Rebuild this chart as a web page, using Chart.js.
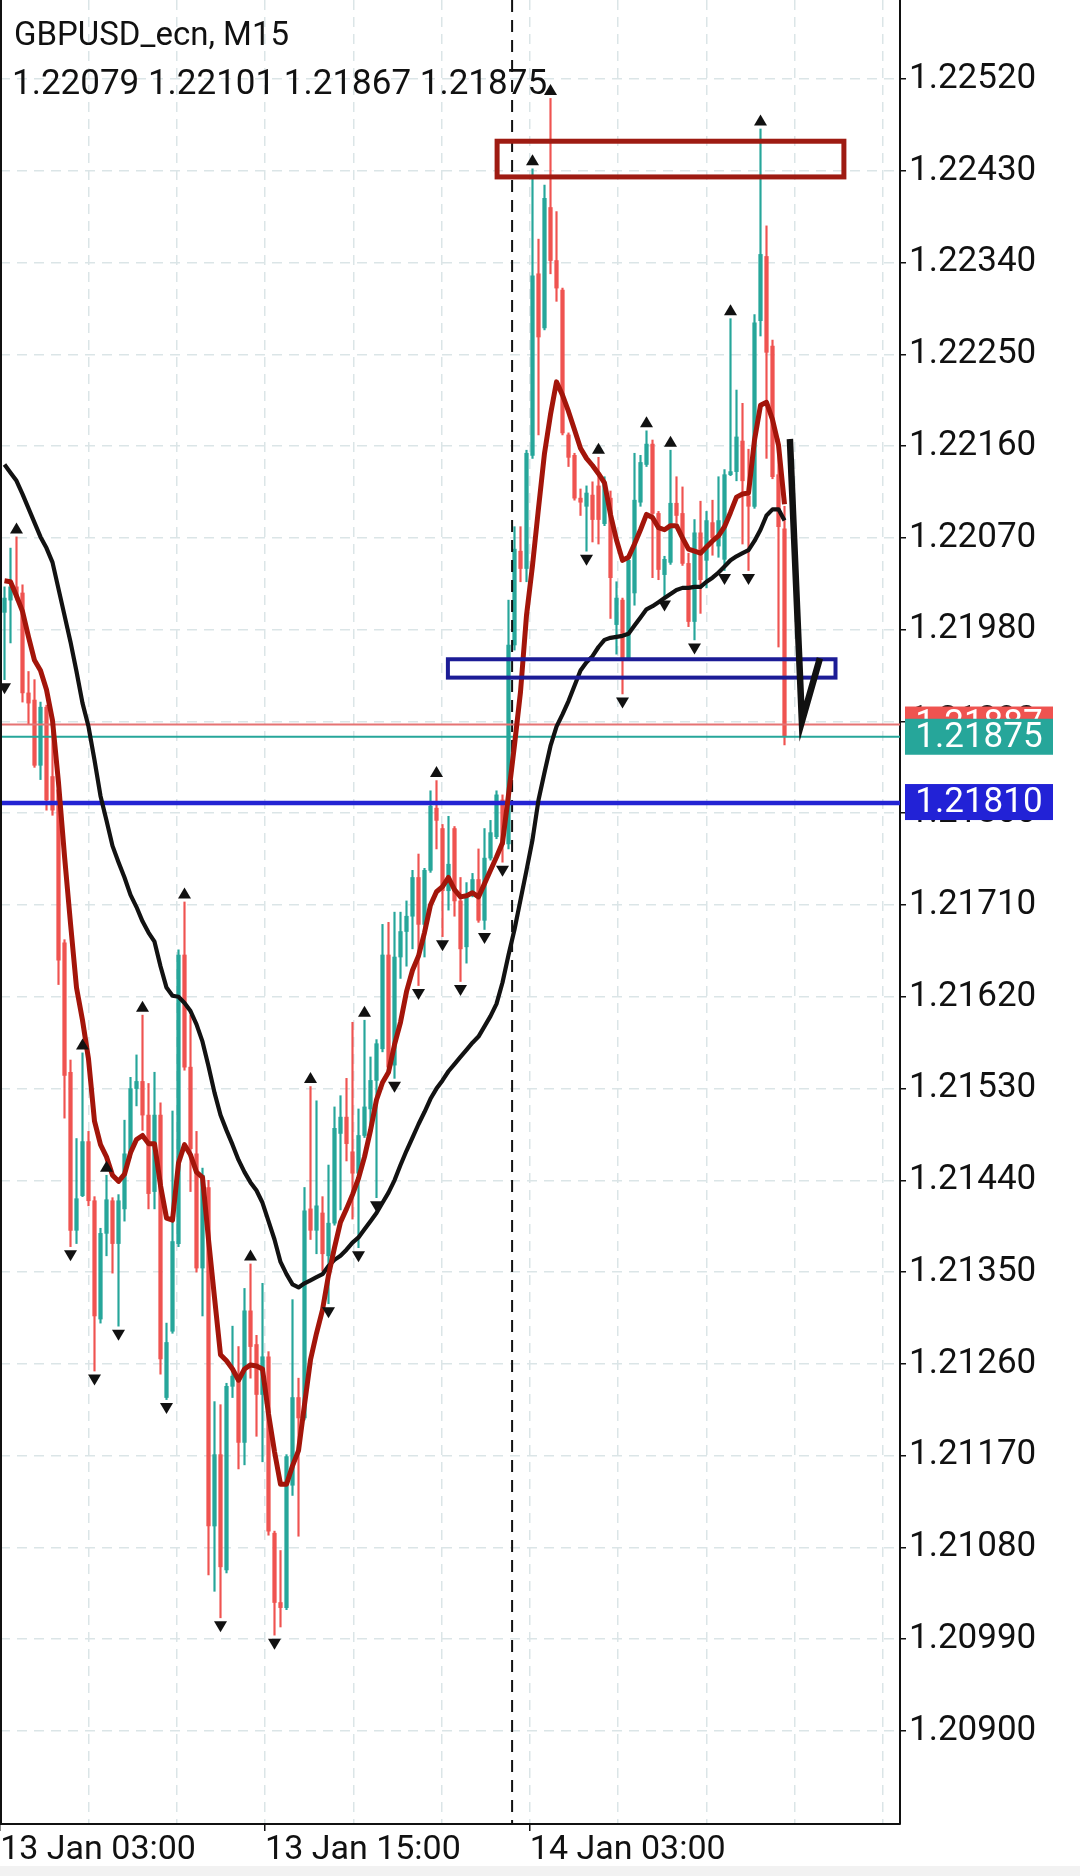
<!DOCTYPE html>
<html><head><meta charset="utf-8">
<script src="https://cdn.jsdelivr.net/npm/chart.js@4.4.0/dist/chart.umd.min.js"></script>
<style>
html,body{margin:0;padding:0;background:#f2f2f2;}
#wrap{width:1080px;height:1866px;background:#fff;}
canvas{display:block;background:#fff;}
</style></head><body>
<div id="wrap"><canvas id="c" width="1080" height="1866"></canvas></div>
<script>
const symbolTitle = 'GBPUSD_ecn, M15';

const opens = [
1.21997,1.22009,1.22022,1.22016,1.21918,1.21911,1.21847,1.21904,1.21836,1.21823,
1.21673,1.21546,1.21391,1.21425,1.21478,1.21420,1.21304,1.21388,1.21420,1.21378,
1.21412,1.21466,1.21530,1.21537,1.21504,1.21429,1.21504,1.21227,1.21292,1.21378,
1.21661,1.21551,1.21466,1.21354,1.21433,1.21101,1.21171,1.21058,1.21238,1.21246,
1.21183,1.21312,1.21279,1.21230,1.21267,1.21094,1.21026,1.21021,1.21141,1.21227,
1.21207,1.21412,1.21391,1.21408,1.21366,1.21398,1.21486,1.21502,1.21468,1.21447,
1.21484,1.21510,1.21538,1.21569,1.21661,1.21553,1.21659,1.21684,1.21699,1.21737,
1.21691,1.21744,1.21805,1.21785,1.21724,1.21785,1.21714,1.21669,1.21720,1.21735,
1.21695,1.21756,1.21777,1.21813,1.21770,1.21965,1.22057,1.22040,1.22151,1.22329,
1.22276,1.22394,1.22342,1.22313,1.22171,1.22151,1.22109,1.22101,1.22112,1.22121,
1.22084,1.22109,1.21985,1.22009,1.21952,1.22016,1.22105,1.22142,1.22162,1.22094,
1.22034,1.22046,1.22104,1.22094,1.22045,1.21988,1.22075,1.22048,1.22085,1.22062,
1.22049,1.22132,1.22135,1.22165,1.22111,1.22101,1.22283,1.22346,1.22258,1.22132,
1.22079];
const highs = [
1.22022,1.22060,1.22071,1.22024,1.21939,1.21931,1.21909,1.21906,1.21891,1.21828,
1.21676,1.21558,1.21481,1.21565,1.21488,1.21424,1.21393,1.21445,1.21423,1.21426,
1.21499,1.21541,1.21563,1.21602,1.21535,1.21546,1.21516,1.21300,1.21508,1.21666,
1.21713,1.21602,1.21488,1.21452,1.21440,1.21223,1.21220,1.21241,1.21297,1.21277,
1.21334,1.21358,1.21288,1.21339,1.21272,1.21096,1.21077,1.21171,1.21323,1.21246,
1.21433,1.21532,1.21518,1.21424,1.21455,1.21512,1.21523,1.21540,1.21595,1.21510,
1.21597,1.21561,1.21578,1.21691,1.21693,1.21703,1.21703,1.21714,1.21744,1.21760,
1.21746,1.21822,1.21832,1.21789,1.21797,1.21787,1.21737,1.21732,1.21741,1.21765,
1.21785,1.21793,1.21822,1.21818,1.22009,1.22081,1.22081,1.22156,1.22432,1.22363,
1.22416,1.22501,1.22390,1.22315,1.22173,1.22153,1.22118,1.22121,1.22125,1.22149,
1.22130,1.22116,1.22027,1.22011,1.22053,1.22153,1.22151,1.22175,1.22166,1.22096,
1.22052,1.22156,1.22130,1.22120,1.22055,1.22088,1.22106,1.22096,1.22107,1.22130,
1.22137,1.22285,1.22215,1.22202,1.22157,1.22289,1.22471,1.22376,1.22264,1.22167,
1.22101];
const lows = [
1.21931,1.21967,1.22009,1.21909,1.21887,1.21845,1.21833,1.21803,1.21798,1.21632,
1.21501,1.21375,1.21378,1.21424,1.21415,1.21253,1.21300,1.21366,1.21349,1.21297,
1.21400,1.21462,1.21513,1.21489,1.21412,1.21412,1.21250,1.21225,1.21290,1.21375,
1.21548,1.21429,1.21350,1.21307,1.21053,1.21037,1.21011,1.21055,1.21227,1.21157,
1.21161,1.21246,1.21189,1.21164,1.21092,1.20994,1.21002,1.21019,1.21131,1.21091,
1.21205,1.21382,1.21368,1.21351,1.21319,1.21396,1.21411,1.21459,1.21402,1.21374,
1.21482,1.21488,1.21423,1.21566,1.21547,1.21540,1.21638,1.21650,1.21667,1.21631,
1.21659,1.21742,1.21765,1.21679,1.21705,1.21699,1.21635,1.21653,1.21718,1.21693,
1.21686,1.21754,1.21775,1.21752,1.21765,1.21960,1.22027,1.22027,1.22148,1.22171,
1.22274,1.22329,1.22302,1.22171,1.22140,1.22107,1.22092,1.22057,1.22066,1.22064,
1.22082,1.21991,1.21956,1.21917,1.21950,1.22004,1.22101,1.22140,1.22031,1.22029,
1.22012,1.22044,1.22085,1.22043,1.21983,1.21970,1.21996,1.22021,1.22053,1.22051,
1.22038,1.22131,1.22126,1.22064,1.22038,1.22099,1.22268,1.22148,1.22128,1.21963,
1.21867];
const closes = [
1.22011,1.22022,1.22012,1.21918,1.21908,1.21847,1.21904,1.21813,1.21803,1.21656,
1.21543,1.21391,1.21422,1.21478,1.21420,1.21307,1.21388,1.21421,1.21378,1.21420,
1.21466,1.21530,1.21537,1.21504,1.21427,1.21504,1.21265,1.21281,1.21380,1.21661,
1.21551,1.21471,1.21354,1.21445,1.21101,1.21171,1.21061,1.21238,1.21248,1.21183,
1.21312,1.21277,1.21230,1.21267,1.21096,1.21026,1.21021,1.21169,1.21227,1.21207,
1.21410,1.21391,1.21415,1.21368,1.21398,1.21491,1.21502,1.21476,1.21447,1.21484,
1.21512,1.21538,1.21574,1.21661,1.21551,1.21659,1.21684,1.21699,1.21737,1.21691,
1.21744,1.21807,1.21793,1.21724,1.21750,1.21714,1.21667,1.21718,1.21735,1.21695,
1.21756,1.21781,1.21818,1.21769,1.21965,1.22059,1.22040,1.22153,1.22327,1.22267,
1.22403,1.22342,1.22315,1.22173,1.22149,1.22109,1.22105,1.22114,1.22088,1.22088,
1.22123,1.22031,1.22011,1.21952,1.22048,1.22107,1.22144,1.22162,1.22094,1.22039,
1.22049,1.22104,1.22092,1.22045,1.21988,1.22075,1.22029,1.22087,1.22070,1.22087,
1.22132,1.22135,1.22169,1.22126,1.22101,1.22281,1.22348,1.22252,1.22130,1.22081,
1.21875];

const maFast = [
1.22028,1.22027,1.22013,1.21998,1.21973,1.21950,1.21940,1.21921,1.21891,1.21830,
1.21758,1.21692,1.21629,1.21597,1.21559,1.21498,1.21475,1.21463,1.21445,1.21439,
1.21446,1.21467,1.21480,1.21484,1.21476,1.21476,1.21435,1.21403,1.21401,1.21457,
1.21475,1.21465,1.21448,1.21443,1.21382,1.21325,1.21269,1.21263,1.21255,1.21244,
1.21255,1.21259,1.21258,1.21255,1.21211,1.21174,1.21142,1.21142,1.21160,1.21175,
1.21220,1.21264,1.21290,1.21313,1.21347,1.21374,1.21399,1.21412,1.21426,1.21442,
1.21463,1.21489,1.21519,1.21536,1.21546,1.21573,1.21595,1.21625,1.21646,1.21660,
1.21683,1.21710,1.21723,1.21728,1.21737,1.21725,1.21718,1.21719,1.21722,1.21718,
1.21731,1.21744,1.21757,1.21771,1.21818,1.21867,1.21919,1.21994,1.22043,1.22099,
1.22153,1.22191,1.22223,1.22210,1.22194,1.22176,1.22158,1.22148,1.22141,1.22133,
1.22124,1.22093,1.22068,1.22048,1.22051,1.22064,1.22078,1.22093,1.22090,1.22080,
1.22078,1.22082,1.22082,1.22070,1.22059,1.22057,1.22055,1.22061,1.22067,1.22072,
1.22081,1.22095,1.22110,1.22113,1.22114,1.22166,1.22200,1.22203,1.22186,1.22161,
1.22103];
const maSlow = [
1.22142,1.22134,1.22126,1.22113,1.22099,1.22085,1.22071,1.22060,1.22046,1.22020,
1.21994,1.21968,1.21939,1.21908,1.21885,1.21852,1.21817,1.21793,1.21768,1.21752,
1.21737,1.21720,1.21708,1.21694,1.21683,1.21674,1.21650,1.21629,1.21621,1.21620,
1.21614,1.21606,1.21593,1.21576,1.21552,1.21526,1.21504,1.21489,1.21475,1.21460,
1.21448,1.21438,1.21430,1.21418,1.21400,1.21382,1.21360,1.21348,1.21338,1.21335,
1.21339,1.21342,1.21345,1.21348,1.21356,1.21362,1.21366,1.21372,1.21379,1.21384,
1.21392,1.21400,1.21408,1.21418,1.21428,1.21440,1.21455,1.21469,1.21482,1.21495,
1.21507,1.21520,1.21530,1.21538,1.21547,1.21554,1.21561,1.21568,1.21575,1.21581,
1.21591,1.21601,1.21613,1.21634,1.21661,1.21686,1.21715,1.21744,1.21774,1.21813,
1.21840,1.21866,1.21885,1.21897,1.21910,1.21925,1.21940,1.21948,1.21954,1.21963,
1.21970,1.21972,1.21973,1.21974,1.21976,1.21984,1.21992,1.22000,1.22003,1.22007,
1.22011,1.22015,1.22019,1.22021,1.22021,1.22022,1.22022,1.22027,1.22031,1.22036,
1.22042,1.22048,1.22052,1.22055,1.22058,1.22067,1.22078,1.22092,1.22098,1.22098,
1.22087];

const fractalUp = [2,13,17,23,30,41,51,60,72,88,91,99,107,111,121,126];
const fractalDown = [0,11,15,19,27,36,45,54,59,62,65,69,73,76,80,83,97,103,110,115,120,124];

const yTicks = [1.20900,1.20990,1.21080,1.21170,1.21260,1.21350,1.21440,1.21530,1.21620,1.21710,
                1.21800,1.21890,1.21980,1.22070,1.22160,1.22250,1.22340,1.22430,1.22520];
const xGridTicks = [-0.72,14.0,28.71,43.42,58.14,72.85,87.56,102.28,116.99,131.7,146.42];
const xTickLabels = ['13 Jan 03:00','','','13 Jan 15:00','','','14 Jan 03:00','','','',''];

const askPrice = 1.21887;
const bidPrice = closes[closes.length - 1];
const levelPrice = 1.21810;
const separatorBar = 84.6;
const redBox = [82.1, 139.9, 1.22424, 1.22459];   // bar from, bar to, price low, price high
const blueBox = [73.9, 138.5, 1.21933, 1.21951];
const sketchX = [130.9, 132.9, 135.9];
const sketchY = [1.22167, 1.21890, 1.21952];

const UP = '#26a69a', DOWN = '#ef5350';
const candleColors = opens.map((o, i) => closes[i] >= o ? UP : DOWN);
const wickData = opens.map((o, i) => ({x: i, y: [lows[i], highs[i]]}));
const bodyData = opens.map((o, i) => ({x: i, y: [o, closes[i]]}));
const fastData = maFast.map((v, i) => ({x: i, y: v}));
const slowData = maSlow.map((v, i) => ({x: i, y: v}));
const sketchData = sketchX.map((v, i) => ({x: v, y: sketchY[i]}));

const FONT = 'Roboto';

const annot = {
  id: 'annot',
  beforeDatasetDraw(chart, args) {
    const lbl = chart.data.datasets[args.index].label;
    const {ctx, chartArea: a, scales: {x, y}} = chart;
    ctx.save();
    ctx.beginPath(); ctx.rect(a.left, a.top, a.right - a.left, a.bottom - a.top); ctx.clip();
    if (lbl === 'slow') {
      const sx = x.getPixelForValue(separatorBar);
      ctx.strokeStyle = '#111'; ctx.lineWidth = 2; ctx.setLineDash([12, 8]);
      ctx.beginPath(); ctx.moveTo(sx, a.top); ctx.lineTo(sx, a.bottom); ctx.stroke();
      ctx.setLineDash([]);
      const hl = (p, c, w) => { const py = y.getPixelForValue(p); ctx.strokeStyle = c; ctx.lineWidth = w;
        ctx.beginPath(); ctx.moveTo(a.left, py); ctx.lineTo(a.right, py); ctx.stroke(); };
      hl(askPrice, '#e57373', 2);
      hl(bidPrice, '#26a69a', 2);
      hl(levelPrice, '#2323d3', 4.5);
    }
    if (lbl === 'sketch') {
      ctx.fillStyle = '#111';
      const tri = (px, py, up) => { ctx.beginPath();
        if (up) { ctx.moveTo(px, py - 5.5); ctx.lineTo(px + 6.5, py + 5.5); ctx.lineTo(px - 6.5, py + 5.5); }
        else { ctx.moveTo(px, py + 5.5); ctx.lineTo(px + 6.5, py - 5.5); ctx.lineTo(px - 6.5, py - 5.5); }
        ctx.closePath(); ctx.fill(); };
      fractalUp.forEach(i => tri(x.getPixelForValue(i), y.getPixelForValue(highs[i]) - 9, true));
      fractalDown.forEach(i => tri(x.getPixelForValue(i), y.getPixelForValue(lows[i]) + 9, false));
      const box = (b, c, w) => { const x0 = x.getPixelForValue(b[0]), x1 = x.getPixelForValue(b[1]);
        const y0 = y.getPixelForValue(b[3]), y1 = y.getPixelForValue(b[2]);
        ctx.strokeStyle = c; ctx.lineWidth = w; ctx.strokeRect(x0, y0, x1 - x0, y1 - y0); };
      box(redBox, '#9e1b12', 5);
      box(blueBox, '#1c1c96', 4);
    }
    ctx.restore();
  },
  afterDraw(chart) {
    const {ctx, chartArea: a, scales: {y}} = chart;
    ctx.save();
    ctx.fillStyle = '#111'; ctx.fillRect(a.left, a.top, 2, a.bottom - a.top);
    const tag = (p, c, h, dy) => { const py = y.getPixelForValue(p) + dy;
      ctx.fillStyle = c; ctx.fillRect(a.right + 5, py - h / 2, 148, h);
      ctx.fillStyle = '#fff'; ctx.font = '35px ' + FONT; ctx.textAlign = 'center'; ctx.textBaseline = 'middle';
      ctx.fillText(p.toFixed(5), a.right + 5 + 74, py + 1); };
    tag(askPrice, '#ef5350', 36, 0);
    tag(bidPrice, '#26a69a', 36, 0);
    tag(levelPrice, '#2222d6', 36, -1);
    const n = opens.length - 1;
    ctx.fillStyle = '#111'; ctx.textAlign = 'left'; ctx.textBaseline = 'alphabetic';
    ctx.font = '33px ' + FONT;
    ctx.fillText(symbolTitle, 14, 45);
    ctx.font = '35px ' + FONT;
    ctx.fillText([opens[n], highs[n], lows[n], closes[n]].map(v => v.toFixed(5)).join(' '), 12, 94);
    ctx.restore();
  }
};

new Chart(document.getElementById('c'), {
  type: 'bar',
  data: {
    datasets: [
      {label: 'wick', type: 'bar', data: wickData, backgroundColor: candleColors, barThickness: 1.5, grouped: false, order: 5, borderWidth: 0},
      {label: 'body', type: 'bar', data: bodyData, backgroundColor: candleColors, barThickness: 3.6, minBarLength: 1.5, grouped: false, order: 4, borderWidth: 0},
      {label: 'slow', type: 'line', data: slowData, borderColor: '#121212', borderWidth: 4.2, pointRadius: 0, tension: 0, order: 3, borderJoinStyle: 'round'},
      {label: 'fast', type: 'line', data: fastData, borderColor: '#a3150a', borderWidth: 5, pointRadius: 0, tension: 0, order: 2, borderJoinStyle: 'round'},
      {label: 'sketch', type: 'line', data: sketchData, borderColor: '#111', borderWidth: 6.5, pointRadius: 0, tension: 0, order: 1, borderJoinStyle: 'miter'}
    ]
  },
  options: {
    responsive: false, animation: false, devicePixelRatio: 1, events: [],
    layout: {padding: 0},
    plugins: {legend: {display: false}, tooltip: {enabled: false}},
    scales: {
      x: {
        type: 'linear', position: 'bottom', min: -0.75, max: 149.25, offset: false,
        afterBuildTicks: s => { s.ticks = xGridTicks.map(v => ({value: v})); },
        afterFit: s => { s.height = 42; s.paddingLeft = 0; s.paddingRight = 0; },
        ticks: {autoSkip: false, maxRotation: 0, minRotation: 0, align: 'start', padding: 2,
          callback: (v, i) => xTickLabels[i] || '', color: '#111', font: {family: FONT, size: 34, lineHeight: 1}},
        grid: {offset: false, color: '#dbe5e7', lineWidth: 1.5,
          tickColor: c => xTickLabels[c.index] ? '#111' : 'rgba(0,0,0,0)', tickLength: 7, tickWidth: 1.5, tickBorderDash: []},
        border: {display: true, color: '#111', width: 2, dash: [10, 7]}
      },
      y: {
        type: 'linear', position: 'right', min: 1.208088, max: 1.225975,
        afterBuildTicks: s => { s.ticks = yTicks.map(v => ({value: v})); },
        afterFit: s => { s.width = 180; s.paddingTop = 0; s.paddingBottom = 0; },
        ticks: {autoSkip: false, padding: 3, callback: v => Number(v).toFixed(5), color: '#111', font: {family: FONT, size: 35}},
        grid: {color: '#dbe5e7', lineWidth: 1.5, tickColor: '#111', tickLength: 6, tickWidth: 1.5, tickBorderDash: []},
        border: {display: true, color: '#111', width: 2, dash: [10, 7]}
      }
    }
  },
  plugins: [annot]
});
</script>
</body></html>
